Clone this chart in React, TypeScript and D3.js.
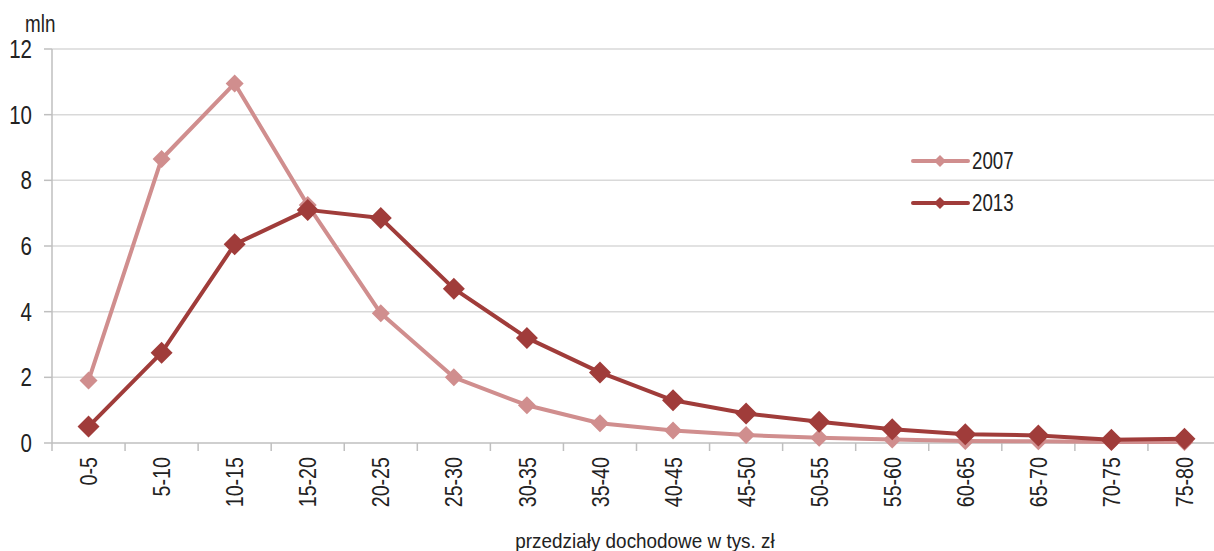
import React from "react";
import * as d3 from "d3";

const categories = ["0-5","5-10","10-15","15-20","20-25","25-30","30-35","35-40","40-45","45-50","50-55","55-60","60-65","65-70","70-75","75-80"];
const values2007 = [1.9, 8.65, 10.95, 7.25, 3.95, 2.0, 1.15, 0.6, 0.38, 0.24, 0.16, 0.11, 0.06, 0.05, 0.03, 0.03];
const values2013 = [0.5, 2.75, 6.05, 7.1, 6.85, 4.7, 3.2, 2.15, 1.3, 0.9, 0.65, 0.42, 0.27, 0.23, 0.1, 0.13];
const yTicks = [0, 2, 4, 6, 8, 10, 12];
const seriesNames = ["2007", "2013"];

const W = 1214, H = 551;
const FONT = "'Liberation Sans', Arial, sans-serif";
const SX = 0.82;

export default function App() {
  const x0 = 52, x1 = 1221, yTop = 49, yBot = 443;
  const xBand = d3.scaleBand<string>().domain(categories).range([x0, x1]).padding(0);
  const y = d3.scaleLinear().domain([0, 12]).range([yBot, yTop]);
  const cx = (c: string) => (xBand(c) as number) + xBand.bandwidth() / 2;
  const line = d3.line<number>().x((_, i) => cx(categories[i])).y((v) => y(v));
  const series = [
    { name: seriesNames[0], vals: values2007, color: "#D08E8E", r: 9 },
    { name: seriesNames[1], vals: values2013, color: "#A03C3A", r: 11 },
  ];
  const diamond = (px: number, py: number, r: number) =>
    `M${px},${py - r}L${px + r},${py}L${px},${py + r}L${px - r},${py}Z`;
  const boundaries = categories.map((c) => xBand(c) as number).concat([x1]);

  return (
    <svg width={W} height={H} style={{ position: "absolute", left: 0, top: 0 }}>
      <rect width={W} height={H} fill="#fff" />
      {yTicks.map((t) => (
        <g key={t}>
          {t > 0 && <line x1={x0} x2={x1} y1={y(t)} y2={y(t)} stroke="#d9d9d9" strokeWidth={1.5} />}
          <line x1={x0 - 8} x2={x0} y1={y(t)} y2={y(t)} stroke="#bfbfbf" strokeWidth={1.5} />
          <text transform={`translate(32,${y(t)}) scale(${SX},1)`} dy="0.36em" textAnchor="end" fontFamily={FONT} fontSize={25} fill="#222">{t}</text>
        </g>
      ))}
      <line x1={x0} x2={x0} y1={yTop} y2={yBot} stroke="#bfbfbf" strokeWidth={1.5} />
      <line x1={x0} x2={x1} y1={yBot} y2={yBot} stroke="#bfbfbf" strokeWidth={1.5} />
      {boundaries.map((b, i) => (
        <line key={i} x1={b} x2={b} y1={yBot} y2={yBot + 8} stroke="#bfbfbf" strokeWidth={1.5} />
      ))}
      {categories.map((c) => (
        <text key={c} transform={`translate(${cx(c)},457) rotate(-90) scale(${SX},1)`} dy="0.36em" textAnchor="end" fontFamily={FONT} fontSize={24} fill="#222">{c}</text>
      ))}
      <text transform={`translate(25,32) scale(${SX},1)`} fontFamily={FONT} fontSize={23} fill="#222">mln</text>
      <text transform={`translate(645,548) scale(0.9,1)`} textAnchor="middle" fontFamily={FONT} fontSize={21} fill="#222">przedziały dochodowe w tys.  zł</text>
      {series.map((s) => (
        <g key={s.name}>
          <path d={line(s.vals) || ""} fill="none" stroke={s.color} strokeWidth={4} strokeLinejoin="round" />
          {s.vals.map((v, i) => (
            <path key={i} d={diamond(cx(categories[i]), y(v), s.r)} fill={s.color} />
          ))}
        </g>
      ))}
      {series.map((s, i) => {
        const ly = 161 + i * 42;
        return (
          <g key={s.name}>
            <line x1={913} x2={968} y1={ly} y2={ly} stroke={s.color} strokeWidth={4} strokeLinecap="round" />
            <path d={diamond(940, ly, 6)} fill={s.color} />
            <text transform={`translate(972,${ly + 8}) scale(0.78,1)`} fontFamily={FONT} fontSize={24} fill="#222">{s.name}</text>
          </g>
        );
      })}
    </svg>
  );
}
